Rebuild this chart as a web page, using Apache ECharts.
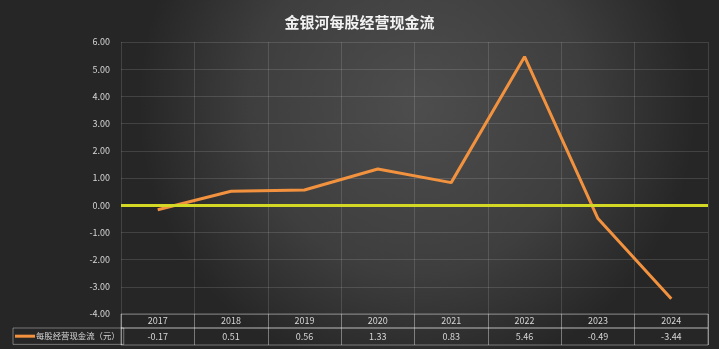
<!DOCTYPE html>
<html>
<head>
<meta charset="utf-8">
<script src="https://cdn.jsdelivr.net/npm/echarts@6/dist/echarts.min.js"></script>
<style>
  html, body { margin: 0; padding: 0; }
  #chart { width: 719px; height: 349px; }
</style>
</head>
<body>
<div id="chart"></div>
<script>
// 数据
const years = ['2017', '2018', '2019', '2020', '2021', '2022', '2023', '2024'];
const cashFlow = [-0.17, 0.51, 0.56, 1.33, 0.83, 5.46, -0.49, -3.44];
const seriesName = '每股经营现金流（元）';
const titleText = '金银河每股经营现金流';

const chart = echarts.init(document.getElementById('chart'));

const font = '"Microsoft YaHei", "Noto Sans CJK SC", sans-serif';
const labelColor = '#d6d6d6';
const gridColor = 'rgba(255,255,255,0.13)';
const tableColor = 'rgba(255,255,255,0.38)';

const option = {
  backgroundColor: {
    type: 'radial', x: 0.58, y: 0.3, r: 0.8,
    colorStops: [
      { offset: 0, color: '#4d4d4d' },
      { offset: 0.6, color: '#3e3e3e' },
      { offset: 1, color: '#262626' }
    ]
  },
  textStyle: { fontFamily: font },
  title: {
    text: titleText,
    left: 'center',
    top: 10,
    textStyle: { color: '#f2f2f2', fontSize: 15, fontWeight: 'bold', fontFamily: font }
  },
  legend: {
    left: 13,
    top: 328,
    padding: [4, 4, 4, 2],
    itemWidth: 20,
    itemHeight: 3,
    itemGap: 0,
    icon: 'rect',
    borderColor: tableColor,
    borderWidth: 1,
    textStyle: { color: labelColor, fontSize: 8.4, padding: [0, 0, 0, -4] },
    data: [seriesName]
  },
  grid: [
    { left: 121, right: 11, top: 42, bottom: 35 },
    { left: 121, right: 11, top: 314, height: 14, show: true, borderColor: tableColor, borderWidth: 1 },
    { left: 121, right: 11, top: 328, height: 17, show: true, borderColor: tableColor, borderWidth: 1 }
  ],
  xAxis: [
    {
      gridIndex: 0, type: 'category', data: years, boundaryGap: true,
      axisLine: { show: false }, axisTick: { show: false }, axisLabel: { show: false },
      splitLine: { show: true, lineStyle: { color: gridColor } }
    },
    {
      gridIndex: 1, type: 'category', data: years, boundaryGap: true,
      axisLine: { show: false }, axisTick: { show: false },
      axisLabel: { color: labelColor, fontSize: 9, margin: -7, verticalAlign: 'middle' },
      splitLine: { show: true, lineStyle: { color: tableColor } }
    },
    {
      gridIndex: 2, type: 'category', data: years, boundaryGap: true,
      axisLine: { show: false }, axisTick: { show: false },
      axisLabel: {
        color: labelColor, fontSize: 9, margin: -8.5, verticalAlign: 'middle',
        formatter: (v, i) => cashFlow[i].toFixed(2)
      },
      splitLine: { show: true, lineStyle: { color: tableColor } }
    }
  ],
  yAxis: [
    {
      gridIndex: 0, type: 'value', min: -4, max: 6, interval: 1,
      axisLine: { show: false }, axisTick: { show: false },
      axisLabel: { color: labelColor, fontSize: 9, margin: 11, formatter: v => v.toFixed(2) },
      splitLine: { lineStyle: { color: gridColor } }
    },
    { gridIndex: 1, type: 'category', data: [''], show: false },
    { gridIndex: 2, type: 'category', data: [''], show: false }
  ],
  series: [
    {
      name: seriesName,
      type: 'line',
      xAxisIndex: 0,
      yAxisIndex: 0,
      data: cashFlow,
      symbol: 'none',
      color: '#f2923f',
      lineStyle: { width: 3, color: '#f2923f' },
      markLine: {
        silent: true,
        symbol: 'none',
        label: { show: false },
        lineStyle: { color: '#d2d823', width: 3, type: 'solid' },
        data: [{ yAxis: 0 }]
      },
      z: 3
    }
  ]
};

chart.setOption(option);
</script>
</body>
</html>
